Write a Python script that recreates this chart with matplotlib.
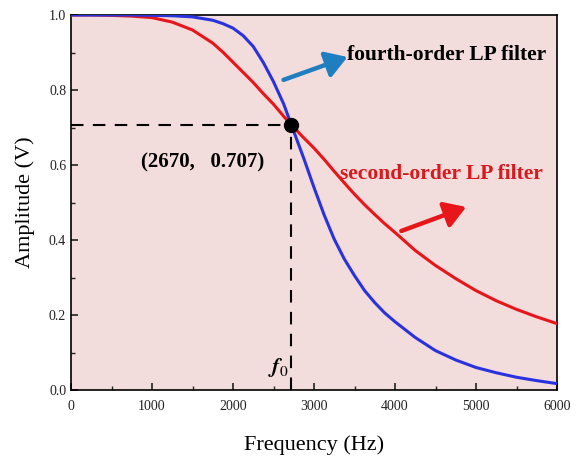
import matplotlib
matplotlib.use("Agg")
import matplotlib.pyplot as plt

# Data
freq = [0, 250, 500, 750, 1000, 1250, 1500, 1750, 1875, 2000, 2125, 2250, 2375, 2500, 2625, 2720,
        2875, 3000, 3125, 3250, 3375, 3500, 3625, 3750, 3875, 4000, 4250, 4500, 4750, 5000,
        5250, 5500, 5750, 6000]
second_order = [1.0, 1.0, 0.999, 0.997, 0.993, 0.981, 0.96, 0.925, 0.901, 0.874, 0.847, 0.82, 0.79,
                0.762, 0.73, 0.707, 0.672, 0.645, 0.615, 0.583, 0.552, 0.522, 0.494, 0.468,
                0.443, 0.42, 0.372, 0.332, 0.297, 0.265, 0.238, 0.215, 0.195, 0.177]
fourth_order = [1.0, 1.0, 1.0, 1.0, 0.999, 0.998, 0.995, 0.986, 0.977, 0.965, 0.945, 0.916, 0.873,
                0.822, 0.763, 0.707, 0.617, 0.54, 0.467, 0.402, 0.349, 0.305, 0.265, 0.233,
                0.205, 0.182, 0.14, 0.105, 0.08, 0.06, 0.046, 0.034, 0.025, 0.017]
f0 = 2720
a0 = 0.707
x_ticks = [0, 1000, 2000, 3000, 4000, 5000, 6000]
y_ticks = [0.0, 0.2, 0.4, 0.6, 0.8, 1.0]

plt.rcParams['font.family'] = ['Liberation Serif', 'DejaVu Serif']
plt.rcParams['mathtext.fontset'] = 'stix'

fig = plt.figure(figsize=(5.78, 4.69), dpi=100)
ax = fig.add_axes([71/578, 1 - 390/469, (557-71)/578, (390-15)/469])
ax.set_facecolor('#f2dcdc')

ax.plot(freq, second_order, color='#e8161b', lw=2.2, zorder=3)
ax.plot(freq, fourth_order, color='#2a32e0', lw=2.2, zorder=3)

ax.plot([0, f0], [a0, a0], color='black', lw=1.5, ls=(0, (6, 4.5)), zorder=2)
ax.plot([f0, f0], [0, a0], color='black', lw=1.5, ls=(0, (6, 4.5)), zorder=2)
ax.plot([f0], [a0], 'o', color='black', ms=10, zorder=5)

ax.set_xlim(0, 6000)
ax.set_ylim(0, 1.0)
ax.set_xticks(x_ticks)
ax.set_yticks(y_ticks)
ax.set_xticks([500, 1500, 2500, 3500, 4500, 5500], minor=True)
ax.set_yticks([0.1, 0.3, 0.5, 0.7, 0.9], minor=True)
ax.set_yticklabels([f"{v:.1f}" for v in y_ticks])
ax.tick_params(which='both', direction='in', labelsize=10, colors='#222222')
ax.tick_params(which='major', length=5, width=1.2)
ax.tick_params(which='minor', length=3, width=1.0)
ax.tick_params(axis='x', pad=7)
for s in ax.spines.values():
    s.set_linewidth(1.2)

ax.set_xlabel('Frequency (Hz)', fontsize=16, labelpad=16)
ax.set_ylabel('Amplitude (V)', fontsize=16, labelpad=10)

ax.text(862, 0.608, '(2670,   0.707)', fontsize=15, fontweight='bold', ha='left', va='center')
ax.text(2560, 0.06, r'$\boldsymbol{f}_{0}$', fontsize=16, ha='center', va='center')
ax.text(3413, 0.893, 'fourth-order LP filter', fontsize=15.5, fontweight='bold',
        ha='left', va='center', color='black', clip_on=True)
ax.text(3326, 0.576, 'second-order LP filter', fontsize=15.5, fontweight='bold',
        ha='left', va='center', color='#d8191e', clip_on=True)

ax.annotate('', xy=(3413, 0.888), xytext=(2624, 0.827),
            arrowprops=dict(arrowstyle='-|>,head_length=0.8,head_width=0.5', color='#1f7ec0',
                            lw=3.2, mutation_scale=16, shrinkA=0, shrinkB=0))
ax.annotate('', xy=(4879, 0.488), xytext=(4078, 0.424),
            arrowprops=dict(arrowstyle='-|>,head_length=0.8,head_width=0.5', color='#e8161b',
                            lw=3.2, mutation_scale=16, shrinkA=0, shrinkB=0))

fig.savefig('out.png', dpi=100, facecolor='white')
